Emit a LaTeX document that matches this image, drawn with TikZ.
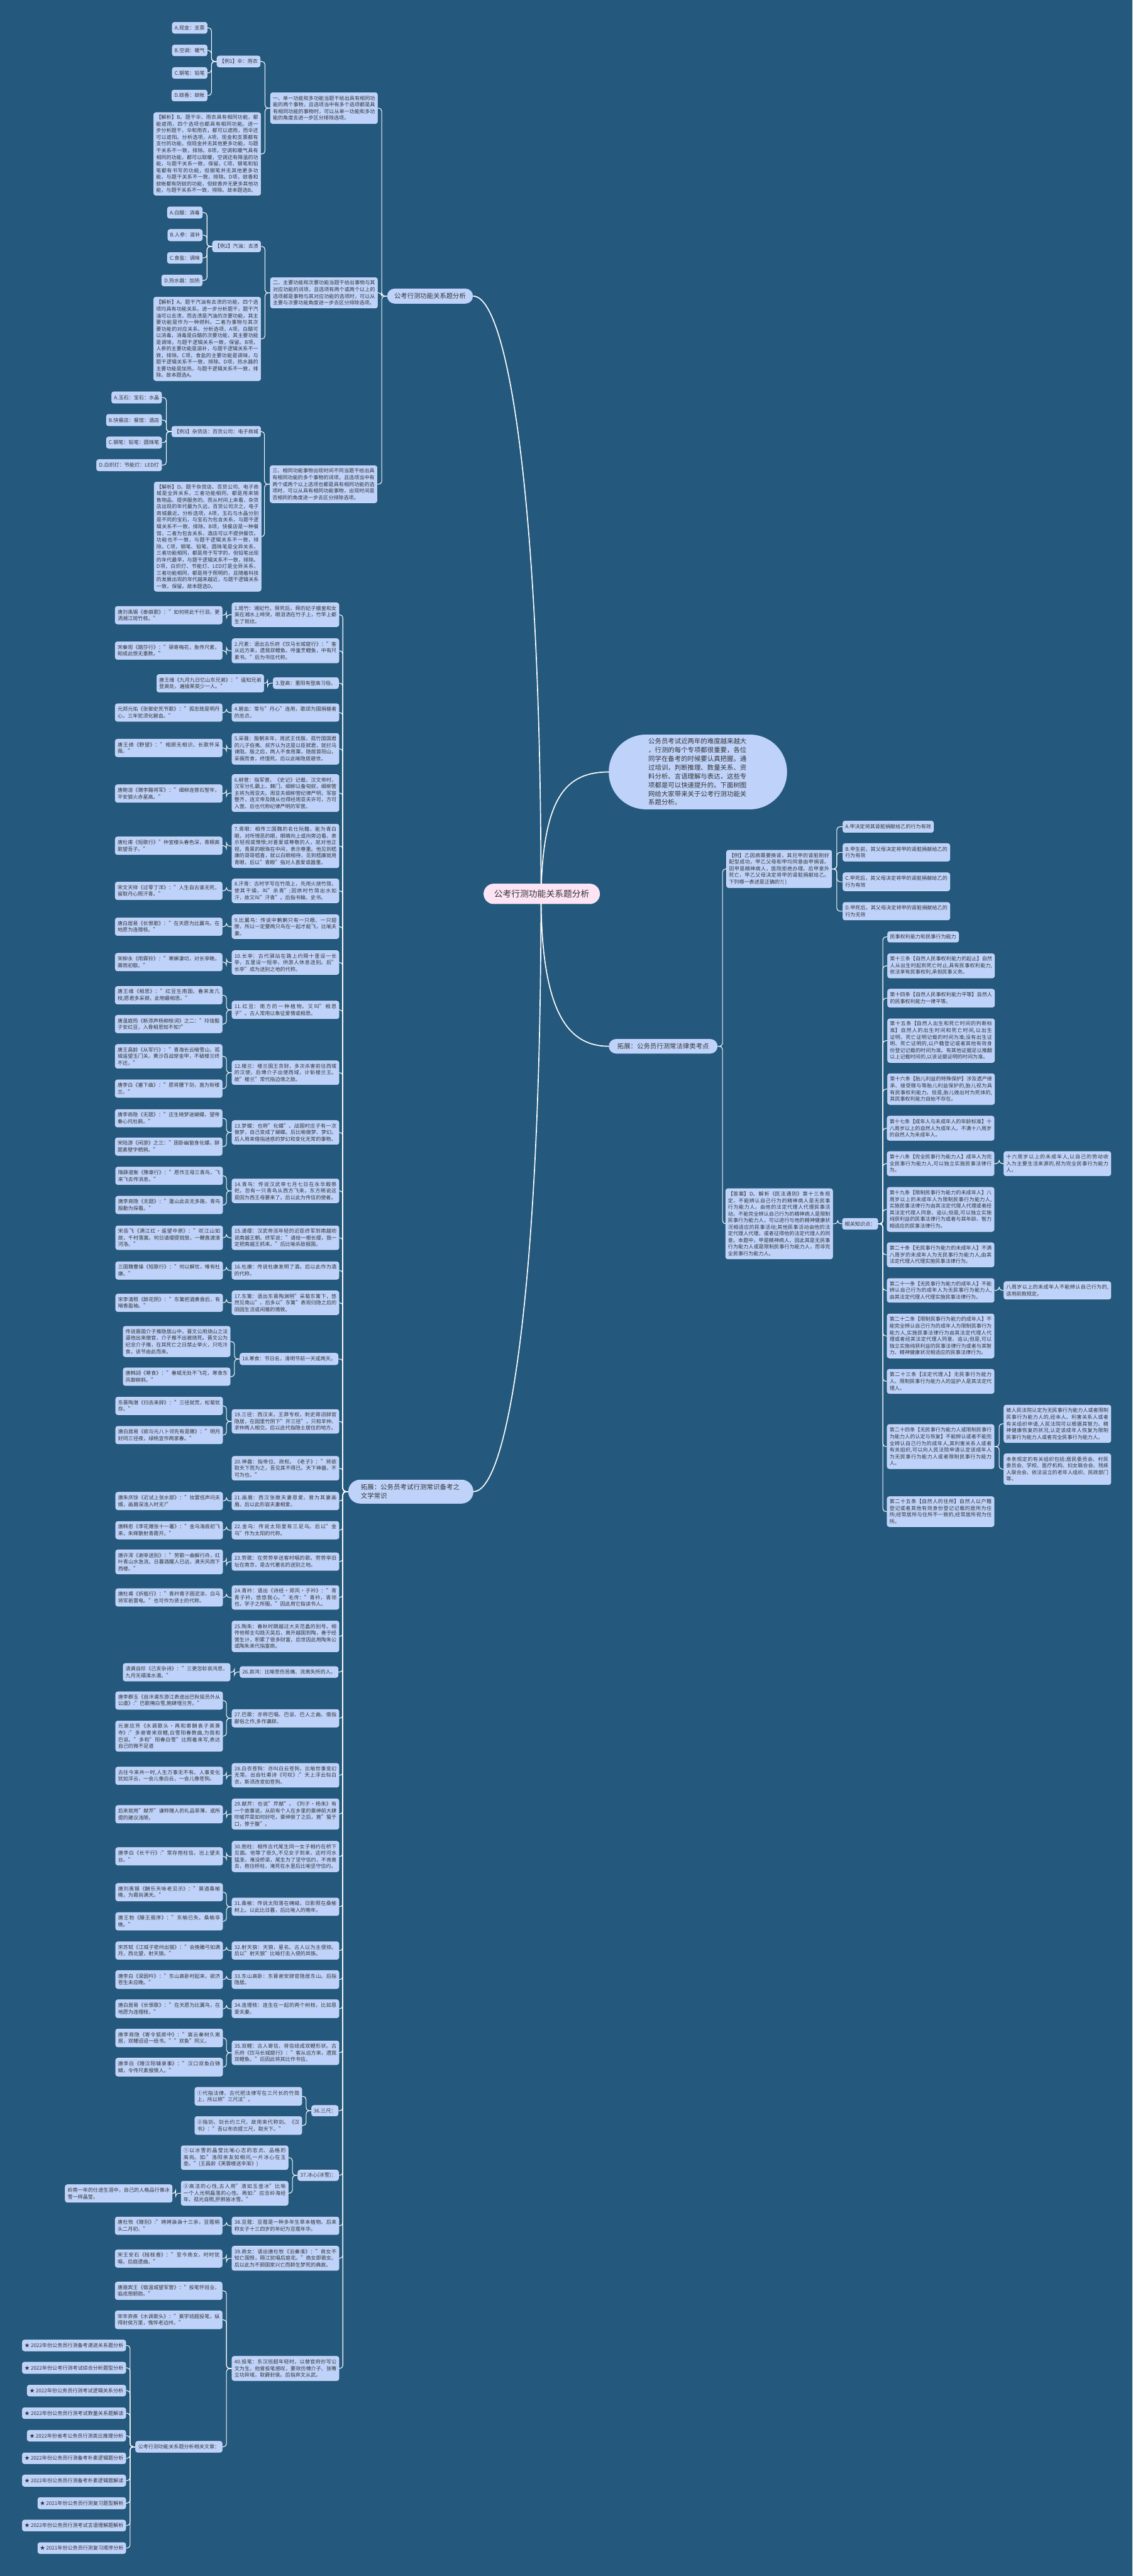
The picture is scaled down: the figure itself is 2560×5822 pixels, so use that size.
\documentclass[tikz,border=0pt]{standalone}
\usepackage{fontspec}
\setmainfont{Noto Sans CJK SC}
\XeTeXlinebreaklocale "zh"
\XeTeXlinebreakskip = 0pt plus 1pt
\definecolor{bgc}{HTML}{24587C}
\definecolor{nfill}{HTML}{BFD3FA}
\definecolor{pk}{HTML}{FCE4F5}
\definecolor{tx}{HTML}{333333}
\pgfdeclarelayer{back}
\pgfdeclarelayer{lines}
\pgfsetlayers{back,lines,main}
\tikzset{
  bx/.style={draw=white!45!nfill, line width=0.8pt, fill=nfill, rounded corners=5pt, text=tx,
    font=\fontsize{11.5}{15}\selectfont, text width=231pt, inner xsep=5.5pt, inner ysep=3pt,
    align=justify, anchor=north west},
  lb/.style={draw=white!45!nfill, line width=0.8pt, fill=nfill, rounded corners=5pt, text=tx,
    font=\fontsize{11.5}{15}\selectfont, inner sep=0pt, anchor=north west},
  pill/.style={fill=nfill, text=tx, inner sep=0pt, anchor=north west},
  cn/.style={draw=white, line width=1.5pt, rounded corners=7pt},
  cv/.style={draw=white, line width=2.4pt},
}
\newcommand\BX[5]{\node[bx, minimum height=#4] (#1) at (#2,#3) {#5};}
\newcommand\LB[6]{\node[lb, minimum width=#4, minimum height=#5] (#1) at (#2,#3) {#6};}
\newcommand\LinkL[2]{\draw[cn] (#1.west) -- ++(-12,0) |- (#2.east);}
\newcommand\LinkR[2]{\draw[cn] (#1.east) -- ++(11,0) |- (#2.west);}
\begin{document}
\begin{tikzpicture}[x=1pt,y=-1pt]
\useasboundingbox (0,0) rectangle (2560,5822);
\begin{pgfonlayer}{back}
\fill[bgc] (0,0) rectangle (2560,5822);
\end{pgfonlayer}

% ---------- centre ----------
\node[pill, fill=pk, rounded corners=23pt, minimum width=263, minimum height=46,
  font=\fontsize{19.6}{24}\selectfont] (ctr) at (1093,1997) {公考行测功能关系题分析};

% ---------- branch A ----------
\node[pill, rounded corners=17pt, minimum width=194, minimum height=34,
  font=\fontsize{14.7}{18}\selectfont] (A) at (875,652) {公考行测功能关系题分析};

\BX{a1}{611}{209}{70}{一、单一功能和多功能当题干给出具有相同功能的两个事物，且选项当中有多个选项都是具有相同功能的事物时，可以从单一功能和多功能的角度去进一步区分排除选项。}
\BX{a2}{611}{627}{69}{二、主要功能和次要功能当题干给出事物与其对应功能的词项，且选项有两个或两个以上的选项都是事物与其对应功能的选项时，可以从主要与次要功能角度进一步去区分排除选项。}
\BX{a3}{610}{1052}{84}{三、相同功能事物出现时间不同当题干给出具有相同功能的多个事物的词项，且选项当中有两个或两个以上选项也都是具有相同功能的选项时，可以从具有相同功能事物，出现时间是否相同的角度进一步去区分排除选项。}

\LB{e1}{490}{126}{98}{25}{【例1】伞：雨衣}
\LB{e1a}{389}{50}{79}{25}{A.现金：支票}
\LB{e1b}{389}{101}{79}{25}{B.空调：暖气}
\LB{e1c}{389}{152}{79}{25}{C.钢笔：铅笔}
\LB{e1d}{388}{203}{80}{25}{D.蚊香：蚊帐}
\BX{j1}{347}{254}{187}{【解析】B。题干伞、雨衣具有相同功能，都能遮雨，四个选项也都具有相同功能。进一步分析题干，伞和雨衣，都可以遮雨，而伞还可以遮阳。分析选项，A项，现金和支票都有支付的功能，但现金并无其他更多功能，与题干关系不一致，排除。B项，空调和暖气具有相同的功能，都可以取暖，空调还有降温的功能，与题干关系一致，保留。C项，钢笔和铅笔都有书写的功能，但钢笔并无其他更多功能，与题干关系不一致，排除。D项，蚊香和蚊帐都有防蚊的功能，但蚊香并无更多其他功能，与题干关系不一致，排除。故本题选B。}

\LB{e2}{480}{544}{109}{25}{【例2】汽油：去渍}
\LB{e2a}{378}{467}{79}{26}{A.白醋：消毒}
\LB{e2b}{379}{518}{78}{26}{B.人参：滋补}
\LB{e2c}{378}{570}{79}{25}{C.食盐：调味}
\LB{e2d}{365}{621}{92}{25}{D.热水器：加热}
\BX{j2}{347}{671}{189}{【解析】A。题干汽油有去渍的功能，四个选项均具有功能关系。进一步分析题干，题干汽油可以去渍，而去渍是汽油的次要功能，其主要功能是作为一种燃料。二者为事物与其次要功能的对应关系。分析选项，A项，白醋可以消毒，消毒是白醋的次要功能，其主要功能是调味，与题干逻辑关系一致，保留。B项，人参的主要功能是滋补，与题干逻辑关系不一致，排除。C项，食盐的主要功能是调味，与题干逻辑关系不一致，排除。D项，热水器的主要功能是加热，与题干逻辑关系不一致，排除。故本题选A。}

\LB{e3}{388}{963}{201}{24}{【例3】杂货店：百货公司：电子商城}
\LB{e3a}{252}{885}{113}{26}{A.玉石：宝石：水晶}
\LB{e3b}{240}{936}{125}{26}{B.快餐店：餐馆：酒店}
\LB{e3c}{240}{987}{125}{26}{C.钢笔：铅笔：圆珠笔}
\LB{e3d}{218}{1038}{147}{26}{D.白炽灯：节能灯：LED灯}
\BX{j3}{348}{1089}{247}{【解析】D。题干杂货店、百货公司、电子商城是全异关系，三者功能相同，都是用来销售物品、提供服务的。而从时间上来看，杂货店出现的年代最为久远，百货公司次之，电子商城最近。分析选项，A项，玉石与水晶分别是不同的宝石，与宝石为包含关系，与题干逻辑关系不一致，排除。B项，快餐店是一种餐馆，二者为包含关系，酒店可以不提供餐饮，功能也不一致，与题干逻辑关系不一致，排除。C项，钢笔、铅笔、圆珠笔是全异关系，三者功能相同，都是用于写字的，但铅笔出现的年代最早，与题干逻辑关系不一致，排除。D项，白炽灯、节能灯、LED灯是全异关系，三者功能相同，都是用于照明的，且随着科技的发展出现的年代越来越近，与题干逻辑关系一致，保留。故本题选D。}

% ---------- branch B (bubble) ----------
\node[pill, rounded corners=84pt, minimum height=169, text width=224pt, inner xsep=89.5pt,
  font=\fontsize{14.8}{19.7}\selectfont, align=left] (bub) at (1376,1660)
  {公务员考试近两年的难度越来越大\\，行测的每个专项都很重要，各位\\同学在备考的时候要认真把握。通\\过培训，判断推理、数量关系、资\\料分析、言语理解与表达，这些专\\项都是可以快速提升的。下面树图\\网给大家带来关于公考行测功能关\\系题分析。};

% ---------- branch C ----------
\node[pill, rounded corners=16.5pt, minimum width=246, minimum height=33,
  font=\fontsize{14.8}{18}\selectfont] (C) at (1376,2348) {拓展：公务员行测常法律类考点};

\node[bx, text width=227pt, minimum height=85] (ex) at (1642,1921) {【例】乙因病需要换肾，其兄甲的肾脏刚好配型成功，甲乙父母和甲均同意由甲捐肾。因甲是精神病人，医院拒绝办理。后甲意外死亡，甲乙父母决定将甲的肾脏捐献给乙。下列哪一表述是正确的?( )};
\LB{opA}{1905}{1855}{205}{26}{A.甲决定将其肾脏捐献给乙的行为有效}
\BX{opB}{1905}{1906}{40}{B.甲生前，其父母决定将甲的肾脏捐献给乙的行为有效}
\BX{opC}{1905}{1972}{41}{C.甲死后，其父母决定将甲的肾脏捐献给乙的行为有效}
\BX{opD}{1905}{2039}{40}{D.甲死后，其父母决定将甲的肾脏捐献给乙的行为无效}

\BX{ans}{1640}{2686}{159}{【答案】D。解析《民法通则》第十三条规定，不能辨认自己行为的精神病人是无民事行为能力人，由他的法定代理人代理民事活动。不能完全辨认自己行为的精神病人是限制民事行为能力人，可以进行与他的精神健康状况相适应的民事活动;其他民事活动由他的法定代理人代理，或者征得他的法定代理人的同意。本题中，甲是精神病人，因此其是无民事行为能力人或是限制民事行为能力人，而非完全民事行为能力人。}
\LB{know}{1904}{2753}{80}{25}{相关知识点：}

\LB{k1}{2006}{2105}{161}{24}{民事权利能力和民事行为能力}
\BX{k2}{2006}{2155}{55}{第十三条【自然人民事权利能力的起止】自然人从出生时起到死亡时止,具有民事权利能力,依法享有民事权利,承担民事义务。}
\BX{k3}{2006}{2235}{41}{第十四条【自然人民事权利能力平等】自然人的民事权利能力一律平等。}
\BX{k4}{2006}{2302}{99}{第十五条【自然人出生和死亡时间的判断标准】自然人的出生时间和死亡时间,以出生证明、死亡证明记载的时间为准;没有出生证明、死亡证明的,以户籍登记或者其他有效身份登记记载的时间为准。有其他证据足以推翻以上记载时间的,以该证据证明的时间为准。}
\BX{k5}{2006}{2426}{70}{第十六条【胎儿利益的特殊保护】涉及遗产继承、接受赠与等胎儿利益保护的,胎儿视为具有民事权利能力。但是,胎儿娩出时为死体的,其民事权利能力自始不存在。}
\BX{k6}{2005}{2522}{55}{第十七条【成年人与未成年人的年龄标准】十八周岁以上的自然人为成年人。不满十八周岁的自然人为未成年人。}
\BX{k7}{2005}{2602}{55}{第十八条【完全民事行为能力人】成年人为完全民事行为能力人,可以独立实施民事法律行为。}
\BX{k7a}{2269}{2602}{55}{十六周岁以上的未成年人,以自己的劳动收入为主要生活来源的,视为完全民事行为能力人。}
\BX{k8}{2005}{2683}{100}{第十九条【限制民事行为能力的未成年人】八周岁以上的未成年人为限制民事行为能力人,实施民事法律行为由其法定代理人代理或者经其法定代理人同意、追认;但是,可以独立实施纯获利益的民事法律行为或者与其年龄、智力相适应的民事法律行为。}
\BX{k9}{2005}{2808}{55}{第二十条【无民事行为能力的未成年人】不满八周岁的未成年人为无民事行为能力人,由其法定代理人代理实施民事法律行为。}
\BX{k10}{2005}{2889}{54}{第二十一条【无民事行为能力的成年人】不能辨认自己行为的成年人为无民事行为能力人,由其法定代理人代理实施民事法律行为。}
\BX{k10a}{2269}{2896}{40}{八周岁以上的未成年人不能辨认自己行为的,适用前款规定。}
\BX{k11}{2005}{2969}{100}{第二十二条【限制民事行为能力的成年人】不能完全辨认自己行为的成年人为限制民事行为能力人,实施民事法律行为由其法定代理人代理或者经其法定代理人同意、追认;但是,可以独立实施纯获利益的民事法律行为或者与其智力、精神健康状况相适应的民事法律行为。}
\BX{k12}{2005}{3094}{55}{第二十三条【法定代理人】无民事行为能力人、限制民事行为能力人的监护人是其法定代理人。}
\BX{k13}{2005}{3219}{100}{第二十四条【无民事行为能力人或限制民事行为能力人的认定与恢复】不能辨认或者不能完全辨认自己行为的成年人,其利害关系人或者有关组织,可以向人民法院申请认定该成年人为无民事行为能力人或者限制民事行为能力人。}
\BX{k13a}{2269}{3175}{85}{被人民法院认定为无民事行为能力人或者限制民事行为能力人的,经本人、利害关系人或者有关组织申请,人民法院可以根据其智力、精神健康恢复的状况,认定该成年人恢复为限制民事行为能力人或者完全民事行为能力人。}
\BX{k13b}{2269}{3285}{70}{本条规定的有关组织包括:居民委员会、村民委员会、学校、医疗机构、妇女联合会、残疾人联合会、依法设立的老年人组织、民政部门等。}
\BX{k14}{2005}{3382}{68}{第二十五条【自然人的住所】自然人以户籍登记或者其他有效身份登记记载的居所为住所;经常居所与住所不一致的,经常居所视为住所。}

% ---------- branch D ----------
\node[pill, rounded corners=27pt, minimum height=54, text width=226pt, inner xsep=28.5pt,
  font=\fontsize{14.8}{20}\selectfont, align=left] (D) at (787,3344) {拓展：公务员考试行测常识备考之文学常识};

\BX{d1}{524}{1362}{54}{1.斑竹：湘妃竹。舜死后，舜的妃子娥皇和女英在湘水上啼哭，眼泪洒在竹子上，竹竿上都生了斑纹。}
\BX{q1}{260}{1370}{40}{唐刘禹锡《泰娘歌》："如何将此千行泪，更洒湘江斑竹枝。"}
\BX{d2}{524}{1443}{55}{2.尺素：语出古乐府《饮马长城窟行》："客从远方来，遗我双鲤鱼。呼童烹鲤鱼，中有尺素书。"后为书信代称。}
\BX{q2}{260}{1450}{40}{宋秦观《踏莎行》："驿寄梅花，鱼传尺素，砌成此恨无重数。"}
\LB{d3}{617}{1531}{148}{25}{3.登高：重阳有登高习俗。}
\BX{q3}{354}{1524}{40}{唐王维《九月九日忆山东兄弟》："遥知兄弟登高处，遍插茱萸少一人。"}
\BX{d4}{524}{1590}{40}{4.碧血：常与"丹心"连用，歌颂为国捐躯者的忠贞。}
\BX{q4}{260}{1590}{40}{元郑元佑《张御史死节歌》："孤忠既是明丹心，三年犹须化碧血。"}
\BX{d5}{524}{1657}{70}{5.采薇：殷朝末年，周武王伐殷，孤竹国国君的儿子伯夷、叔齐认为这是以臣弑君，就拦马谏阻。殷之后，两人不食周粟，隐居首阳山，采薇而食，终饿死。后以此喻隐居避世。}
\BX{q5}{260}{1670}{40}{唐王绩《野望》："相顾无相识，长歌怀采薇。"}
\BX{d6}{524}{1750}{84}{6.柳营：指军营，《史记》记载，汉文帝时，汉军分扎霸上、棘门、细柳以备匈奴，细柳营主将为周亚夫。周亚夫细柳营纪律严明，军容整齐，连文帝及随从也得经周亚夫许可，方可入营。后也代称纪律严明的军营。}
\BX{q6}{260}{1773}{40}{唐鲍溶《赠李黯将军》："细柳连营石堑牢，平安狼火赤星高。"}
\BX{d7}{524}{1862}{99}{7.青眼：相传三国魏的名仕阮籍，能为青白眼，对所憎恶的眼，眼睛向上或向旁边看，表示轻视或憎恨;对喜爱或尊敬的人，就对他正视，青黑的眼珠在中间，表示尊重。他见到嵇康的哥哥嵇喜，就以白眼相待，见到嵇康就用青眼，后以"青眼"指对人喜爱或器重。}
\BX{q7}{260}{1891}{40}{唐杜甫《短歌行》"仲宣楼头春色深，青眼高歌望吾子。"}
\BX{d8}{524}{1986}{54}{8.汗青：古时字写在竹简上，先用火烧竹简，使其干燥，叫"杀青";因烘时竹简出水如汗，故又叫"汗青"。后指书稿、史书。}
\BX{q8}{260}{1993}{40}{宋文天祥《过零丁洋》："人生自古谁无死，留取丹心照汗青。"}
\BX{d9}{524}{2067}{54}{9.比翼鸟：传说中鹣鹣只有一只眼、一只翅膀，所以一定要两只鸟在一起才能飞，比喻夫妻。}
\BX{q9}{260}{2074}{40}{唐白居易《长恨歌》："在天愿为比翼鸟，在地愿为连理枝。"}
\BX{d10}{524}{2148}{54}{10.长亭：古代驿站在路上约隔十里设一长亭，五里设一短亭，供游人休息送别。后"长亭"成为送别之地的代称。}
\BX{q10}{260}{2154}{40}{宋柳永《雨霖铃》："寒蝉凄切，对长亭晚，骤雨初歇。"}
\BX{d11}{524}{2262}{40}{11.红豆：南方的一种植物，又叫"相思子"。古人常用以象征爱情或相思。}
\BX{q11a}{260}{2229}{40}{唐王维《相思》："红豆生南国，春来发几枝;愿君多采撷，此物最相思。"}
\BX{q11b}{260}{2294}{40}{唐温庭筠《新添声杨柳枝词》之二："玲珑骰子安红豆，入骨相思知不知?"}
\BX{d12}{524}{2397}{54}{12.楼兰：楼兰国王贪财，多次杀害前往西域的汉使，后傅介子出使西域，计斩楼兰王。故"楼兰"常代指边境之敌。}
\BX{q12a}{260}{2360}{54}{唐王昌龄《从军行》："青海长云暗雪山，孤城遥望玉门关。黄沙百战穿金甲，不破楼兰终不还。"}
\BX{q12b}{260}{2440}{40}{唐李白《塞下曲》："愿将腰下剑，直为斩楼兰。"}
\BX{d13}{524}{2532}{54}{13.梦蝶：也称"化蝶"。战国时庄子有一次做梦，自己变成了蝴蝶。后比喻做梦、梦幻。后人用来借指迷惑的梦幻和变化无常的事物。}
\BX{q13a}{260}{2507}{40}{唐李商隐《无题》："庄生晓梦迷蝴蝶，望帝春心托杜鹃。"}
\BX{q13b}{260}{2571}{40}{宋陆游《闲游》之三："困卧幽窗身化蝶，醉题素壁字栖鸦。"}
\BX{d14}{524}{2664}{54}{14.青鸟：传说汉武帝七月七日在永华殿祭祀，忽有一只青鸟从西方飞来，东方朔说这是因为西王母要来了。后以此为传信的使者。}
\BX{q14a}{261}{2637}{40}{隋薛道衡《豫章行》："愿作王母三青鸟，飞来飞去传消息。"}
\BX{q14b}{261}{2703}{40}{唐李商隐《无题》："蓬山此去无多路，青鸟殷勤为探看。"}
\BX{d15}{524}{2770}{54}{15.请缨：汉武帝派年轻的近臣终军到南越劝说南越王朝。终军说："请给一根长缨，我一定把南越王抓来。"后比喻杀敌报国。}
\BX{q15}{261}{2770}{54}{宋岳飞《满江红·遥望中原》："叹江山如故，千村落寞。何日请缨提锐旅，一鞭直渡清河洛。"}
\BX{d16}{524}{2851}{40}{16.杜康：传说杜康发明了酒。后以此作为酒的代称。}
\BX{q16}{261}{2851}{40}{三国魏曹操《短歌行》："何以解忧，唯有杜康。"}
\BX{d17}{524}{2917}{54}{17.东篱：语出东晋陶渊明"采菊东篱下，悠然见南山"。后多以"东篱"表现归隐之后的田园生活或闲雅的情致。}
\BX{q17}{261}{2924}{40}{宋李清照《醉花阴》："东篱把酒黄昏后，有暗香盈袖。"}
\LB{d18}{542}{3058}{222}{26}{18.寒食：节日名，清明节前一天或两天。}
\BX{q18a}{278}{2997}{69}{传说晋国介子推隐居山中，晋文公用烧山之法逼他出来做官，介子推不出被烧死。晋文公为纪念介子推，在其死亡之日禁止举火，只吃冷食。该节由此而来。}
\BX{q18b}{278}{3091}{40}{唐韩翃《寒食》："春城无处不飞花，寒食东风御柳斜。"}
\BX{d19}{524}{3185}{54}{19.三径：西汉末，王莽专权，刺史蒋诩辞官隐居，在园里竹阴下"开三径"，只和羊仲、求仲两人相交。后以此代指隐士居住的地方。}
\BX{q19a}{261}{3157}{40}{东晋陶潜《归去来辞》："三径就荒，松菊犹存。"}
\BX{q19b}{261}{3223}{40}{唐白居易《欲与元八卜邻先有是赠》："明月好同三径夜，绿杨宜作两家春。"}
\BX{d20}{524}{3291}{54}{20.神器：指帝位、政权。《老子》："将欲取天下而为之，吾见其不得已。天下神器，不可为也。"}
\BX{d21}{524}{3372}{40}{21.画眉：西汉张敞夫妻恩爱，曾为其妻画眉。后以此形容夫妻相爱。}
\BX{q21}{261}{3372}{40}{唐朱庆馀《近试上张水部》："妆罢低声问夫婿，画眉深浅入时无?"}
\BX{d22}{524}{3438}{40}{22.金乌：传说太阳里有三足乌。后以"金乌"作为太阳的代称。}
\BX{q22}{261}{3438}{40}{唐韩愈《李花赠张十一署》："金乌海底初飞来，朱辉散射青霞开。"}
\BX{d23}{524}{3509}{40}{23.劳歌：在劳劳亭送客时唱的歌。劳劳亭旧址在南京，是古代著名的送别之地。}
\BX{q23}{261}{3502}{55}{唐许浑《谢亭送别》："劳歌一曲解行舟，红叶青山水急流。日暮酒醒人已远，满天风雨下西楼。"}
\BX{d24}{524}{3583}{54}{24.青衿：语出《诗经·郑风·子衿》："青青子衿，悠悠我心。"毛传："青衿，青领也，学子之所服。"因此用它指读书人。}
\BX{q24}{261}{3590}{40}{唐杜甫《折槛行》："青衿胄子困泥涂，白马将军若雷电。"也可作为贤士的代称。}
\BX{d25}{524}{3663}{70}{25.陶朱：春秋时期越过大夫范蠡的别号。相传他帮主勾践灭吴后，离开越国到陶，善于经营生计，积累了很多财富，后世因此用陶朱公或陶朱来代指富商。}
\LB{d26}{542}{3766}{222}{25}{26.哀鸿：比喻悲伤苦痛、流离失所的人。}
\BX{q26}{278}{3759}{40}{清龚自珍《己亥杂诗》："三更忽轸哀鸿思，九月无襦淮水湄。"}
\BX{d27}{524}{3863}{40}{27.巴歌：亦称巴唱、巴讴、巴人之曲。借指鄙俗之作,多作谦辞。}
\BX{q27a}{261}{3823}{40}{唐李群玉《自泮浦东游江表途出巴秋投员外从公虞》:"巴歌掩白雪,鲍肆埋兰芳。"}
\BX{q27b}{261}{3889}{69}{元谢应芳《水调歌头·再和寄酬袁子英萧寺》:"多谢寄来双鲤,白雪阳春数曲,为我和巴讴。"多和"阳春白雪"比照着来写,表达自己的微不足道}
\BX{d28}{524}{3985}{54}{28.白衣苍狗：亦叫白云苍狗，比喻世事变幻无常。出自杜甫诗《可叹》:"天上浮云似白衣，斯须改变如苍狗。}
\BX{q28}{261}{3993}{40}{古往今来共一时,人生万事无不有。人事变化犹如浮云，一会儿像白云，一会儿像苍狗。}
\BX{d29}{524}{4065}{69}{29.献芹：也说"芹献"。《列子·杨朱》有一个故事说，从前有个人在乡里的豪绅前大肆吹嘘芹菜如何好吃，豪绅尝了之后，竟"蜇于口，惨于腹"。}
\BX{q29}{261}{4080}{40}{后来就用"献芹"谦称赠人的礼品菲薄，或所提的建议浅陋。}
\BX{d30}{524}{4161}{69}{30.抱柱：相传古代尾生同一女子相约在桥下见面。他等了很久,不见女子到来，这时河水猛涨，淹没桥梁，尾生为了坚守信约，不肯离去，抱住桥柱，淹死在水里后比喻坚守信约。}
\BX{q30}{261}{4175}{40}{唐李白《长干行》:"常存抱柱信，岂上望夫台。"}
\BX{d31}{524}{4289}{40}{31.桑榆：传说太阳落在崦嵫，日影照在桑榆树上。以此比日暮，后比喻人的晚年。}
\BX{q31a}{261}{4256}{40}{唐刘禹锡《酬乐天咏老见示》："莫道桑榆晚，为霞尚满天。"}
\BX{q31b}{261}{4322}{40}{唐王勃《滕王阁序》："东榆已失，桑榆非晚。"}
\BX{d32}{524}{4388}{40}{32.射天狼：天狼，星名。古人以为主侵掠。后以"射天狼"比喻打击入侵的异族。}
\BX{q32}{261}{4388}{40}{宋苏轼《江城子密州出猎》："会挽雕弓如满月，西北望，射天狼。"}
\BX{d33}{524}{4453}{41}{33.东山高卧：东晋谢安辞官隐居东山。后指隐居。}
\BX{q33}{261}{4453}{41}{唐李白《梁园吟》："东山高卧时起来，欲济苍生未应晚。"}
\BX{d34}{524}{4519}{41}{34.连理枝：连生在一起的两个树枝，比如恩爱夫妻。}
\BX{q34}{261}{4519}{41}{唐白居易《长恨歌》："在天愿为比翼鸟，在地愿为连理枝。"}
\BX{d35}{524}{4612}{54}{35.双鲤：古人寄信，将信结成双鲤形状。古乐府《饮马长城窟行》："客从远方来，遗我双鲤鱼。"后因此将其比作书信。}
\BX{q35a}{261}{4585}{41}{唐李商隐《寄令狐郎中》："嵩云秦树久离居，双鲤迢迢一纸书。""双鱼"同义。}
\BX{q35b}{261}{4651}{41}{唐李白《赠汉阳辅录事》："汉口双鱼白锦鳞，令传尺素报情人。"}
\LB{d36}{704}{4758}{60}{24}{36.三尺：}
\BX{q36a}{440}{4717}{41}{①代指法律，古代把法律写在三尺长的竹简上，所以称"三尺法"。}
\BX{q36b}{440}{4783}{41}{②指剑，剑长约三尺，故用来代称剑。《汉书》："吾以布衣提三尺，取天下。"}
\LB{d37}{673}{4904}{92}{24}{37.冰心(冰雪)：}
\BX{q37a}{409}{4849}{54}{①以冰雪的晶莹比喻心志的忠贞、品格的高尚。如:"洛阳亲友如相问,一片冰心在玉壶。"(王昌龄《芙蓉楼送辛渐》)}
\BX{q37b}{409}{4929}{55}{②高洁的心性,古人用"清如玉壶冰"比喻一个人光明磊落的心性。再如:"应念岭海经年，孤光自照,肝肺皆冰雪。"}
\BX{q37c}{147}{4937}{40}{岭南一年的仕途生涯中，自己的人格品行像冰雪一样晶莹。}
\BX{d38}{524}{5010}{40}{38.豆蔻：豆蔻是一种多年生草本植物。后来称女子十三四岁的年纪为豆蔻年华。}
\BX{q38}{260}{5010}{40}{唐杜牧《赠别》:"娉娉袅袅十三余，豆蔻梢头二月初。"}
\BX{d39}{524}{5076}{55}{39.商女：语出唐杜牧《泊秦淮》："商女不知亡国恨，隔江犹唱后庭花。"商女即歌女。后以此为不顾国家兴亡而醉生梦死的典故。}
\BX{q39}{260}{5084}{40}{宋王安石《桂枝香》："至今商女，时时犹唱，后庭遗曲。"}
\BX{d40}{524}{5325}{55}{40.投笔：东汉班超年轻时，以替官府抄写公文为生。他曾投笔感叹，要效仿傅介子、张骞立功异域，取爵封侯。后指弃文从武。}
\BX{q40a}{260}{5157}{40}{唐骆宾王《宿温城望军营》："投笔怀班业，临戎想顾勋。"}
\BX{q40b}{260}{5222}{41}{宋辛弃疾《水调歌头》："莫学班超投笔，纵得封侯万里，憔悴老边州。"}
\LB{rel}{306}{5517}{196}{25}{公考行测功能关系题分析相关文章：}
\LB{s1}{50}{5288}{234}{25}{★ 2022年份公务员行测备考递进关系题分析}
\LB{s2}{50}{5338}{234}{26}{★ 2022年份公考行测考试综合分析题型分析}
\LB{s3}{61}{5390}{223}{25}{★ 2022年份公务员行测考试逻辑关系分析}
\LB{s4}{50}{5441}{234}{25}{★ 2022年份公务员行测考试数量关系题解读}
\LB{s5}{61}{5492}{223}{25}{★ 2022年份省考公务员行测类比推理分析}
\LB{s6}{50}{5543}{234}{25}{★ 2022年份公务员行测备考朴素逻辑题分析}
\LB{s7}{50}{5593}{234}{26}{★ 2022年份公务员行测备考朴素逻辑题解读}
\LB{s8}{85}{5644}{199}{26}{★ 2021年份公务员行测复习题型解析}
\LB{s9}{50}{5695}{234}{25}{★ 2022年份公务员行测考试言语理解题解析}
\LB{s10}{85}{5746}{199}{25}{★ 2021年份公务员行测复习顺序分析}

% ---------- connectors ----------
\begin{pgfonlayer}{lines}
\draw[cv] (1223,2020) .. controls (1223,1150) and (1150,669) .. (A.east);
\draw[cv] (1223,2020) .. controls (1228,1800) and (1280,1745) .. (bub.west);
\draw[cv] (1223,2020) .. controls (1223,2300) and (1290,2364) .. (C.west);
\draw[cv] (1223,2020) .. controls (1223,2900) and (1150,3371) .. (D.east);

\foreach \c in {a1,a2,a3} {\LinkL{A}{\c}}
\foreach \c in {e1,j1} {\LinkL{a1}{\c}}
\foreach \c in {e1a,e1b,e1c,e1d} {\LinkL{e1}{\c}}
\foreach \c in {e2,j2} {\LinkL{a2}{\c}}
\foreach \c in {e2a,e2b,e2c,e2d} {\LinkL{e2}{\c}}
\foreach \c in {e3,j3} {\LinkL{a3}{\c}}
\foreach \c in {e3a,e3b,e3c,e3d} {\LinkL{e3}{\c}}

\foreach \c in {ex,ans} {\LinkR{C}{\c}}
\foreach \c in {opA,opB,opC,opD} {\LinkR{ex}{\c}}
\LinkR{ans}{know}
\foreach \c in {k1,k2,k3,k4,k5,k6,k7,k8,k9,k10,k11,k12,k13,k14} {\LinkR{know}{\c}}
\LinkR{k7}{k7a}
\LinkR{k10}{k10a}
\LinkR{k13}{k13a}
\LinkR{k13}{k13b}

\foreach \i in {1,...,40} {\LinkL{D}{d\i}}
\foreach \i in {1,2,3,4,5,6,7,8,9,10,15,16,17,21,22,23,24,26,28,29,30,32,33,34,38,39} {\LinkL{d\i}{q\i}}
\foreach \i in {11,12,13,14,18,19,27,31,35,36,37,40} {\LinkL{d\i}{q\i a}\LinkL{d\i}{q\i b}}
\LinkL{q37b}{q37c}
\LinkL{d40}{rel}
\foreach \i in {1,...,10} {\LinkL{rel}{s\i}}
\end{pgfonlayer}
\end{tikzpicture}
\end{document}
